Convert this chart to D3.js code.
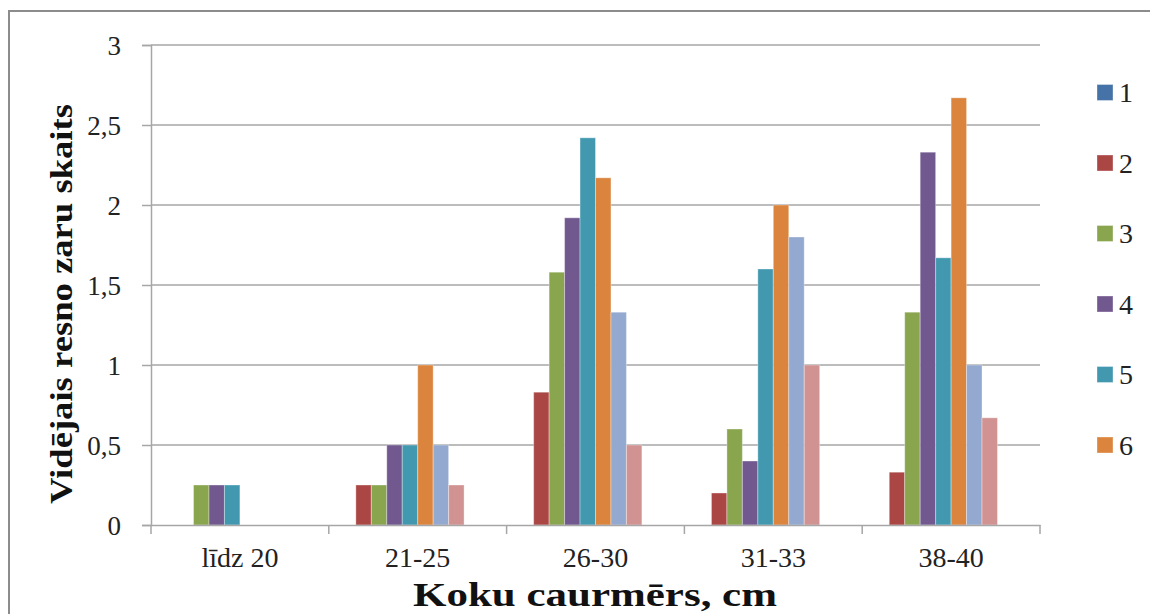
<!DOCTYPE html>
<html>
<head>
<meta charset="utf-8">
<script src="https://cdn.jsdelivr.net/npm/d3@7"></script>
<style>
  html, body { margin: 0; padding: 0; background: #fff; }
  svg { display: block; }
  svg text { font-family: "Liberation Serif", "Times New Roman", Tinos, "DejaVu Serif", serif; }
</style>
</head>
<body>
<svg id="chart" width="1150" height="614"></svg>
<script>
// Diameter classes (x axis)
const categories = ["līdz 20", "21-25", "26-30", "31-33", "38-40"];
// Series names 1..10
const seriesNames = ["1", "2", "3", "4", "5", "6", "7", "8", "9", "10"];
// Average number of thick branches, one array per series
const s1  = [0,    0,    0,    0,    0];
const s2  = [0,    0.25, 0.83, 0.2,  0.33];
const s3  = [0.25, 0.25, 1.58, 0.6,  1.33];
const s4  = [0.25, 0.5,  1.92, 0.4,  2.33];
const s5  = [0.25, 0.5,  2.42, 1.6,  1.67];
const s6  = [0,    1,    2.17, 2,    2.67];
const s7  = [0,    0.5,  1.33, 1.8,  1];
const s8  = [0,    0.25, 0.5,  1,    0.67];
const s9  = [0,    0,    0,    0,    0];
const s10 = [0,    0,    0,    0,    0];
const seriesValues = [s1, s2, s3, s4, s5, s6, s7, s8, s9, s10];
const yTicks = [0, 0.5, 1, 1.5, 2, 2.5, 3];
const colors = ["#4572A7", "#AA4643", "#89A54E", "#71588F", "#4198AF",
                "#DB843D", "#93A9CF", "#D19392", "#B9CD96", "#A99BBD"];
const legendCount = 6;

const svg = d3.select("#chart");
const plotLeft = 151, plotTop = 45, plotW = 889, plotH = 480;
const gridColor = "#a6a6a6";

// Outer chart frame (continues past the right and bottom edges)
svg.append("rect")
  .attr("x", 9).attr("y", 11).attr("width", 1160).attr("height", 640)
  .attr("fill", "none").attr("stroke", "#8c8c8c").attr("stroke-width", 2);

const x0 = d3.scaleBand().domain(categories).range([plotLeft, plotLeft + plotW]).padding(0);
const groupPad = 0.75; // half of the 150% gap, in bar widths
const barW = x0.bandwidth() / (seriesNames.length + 2 * groupPad);
const x1 = d3.scaleBand().domain(seriesNames)
  .range([barW * groupPad, x0.bandwidth() - barW * groupPad]).padding(0);
const y = d3.scaleLinear().domain([0, 3]).range([plotTop + plotH, plotTop]);

// Horizontal gridlines
svg.append("g").selectAll("line").data(yTicks.slice(1)).join("line")
  .attr("x1", plotLeft).attr("x2", plotLeft + plotW)
  .attr("y1", d => y(d)).attr("y2", d => y(d))
  .attr("stroke", gridColor).attr("stroke-width", 1.5);

// Bars
const groups = svg.append("g").selectAll("g").data(seriesNames).join("g")
  .attr("fill", (d, i) => colors[i]);
groups.selectAll("rect")
  .data((name, i) => categories.map((c, j) => ({ c, name, v: seriesValues[i][j] })).filter(d => d.v > 0))
  .join("rect")
  .attr("x", d => x0(d.c) + x1(d.name))
  .attr("width", x1.bandwidth())
  .attr("y", d => y(d.v))
  .attr("height", d => y(0) - y(d.v))
  .attr("stroke", "rgba(255,255,255,0.35)")
  .attr("stroke-width", 1);

// Y axis
const yAxis = d3.axisLeft(y).tickValues(yTicks).tickSize(9).tickPadding(21)
  .tickFormat(d => String(d).replace(".", ","));
const gy = svg.append("g").attr("transform", `translate(${plotLeft},0)`).call(yAxis);
gy.attr("font-family", null);
gy.select(".domain").attr("stroke", gridColor).attr("stroke-width", 1.5);
gy.selectAll(".tick line").attr("stroke", gridColor).attr("stroke-width", 1.5);
gy.selectAll(".tick text").attr("font-size", 27).attr("fill", "#222").attr("dy", "0.34em");

// X axis
const xAxis = d3.axisBottom(x0).tickSize(0).tickPadding(22);
const gx = svg.append("g").attr("transform", `translate(0,${plotTop + plotH})`).call(xAxis);
gx.attr("font-family", null);
gx.select(".domain").attr("stroke", gridColor).attr("stroke-width", 1.5);
gx.selectAll(".tick text").attr("font-size", 28).attr("fill", "#222");
// Category boundary tick marks
svg.append("g").selectAll("line")
  .data(categories.map(c => x0(c)).concat([plotLeft + plotW]))
  .join("line")
  .attr("x1", d => d).attr("x2", d => d)
  .attr("y1", plotTop + plotH).attr("y2", plotTop + plotH + 9)
  .attr("stroke", gridColor).attr("stroke-width", 1.5);

// Axis titles
svg.append("text")
  .attr("x", 595).attr("y", 606)
  .attr("text-anchor", "middle").attr("font-weight", "bold")
  .attr("font-size", 34).attr("fill", "#111")
  .attr("textLength", 364).attr("lengthAdjust", "spacingAndGlyphs")
  .text("Koku caurmērs, cm");

svg.append("text")
  .attr("transform", "translate(72,304) rotate(-90)")
  .attr("text-anchor", "middle").attr("font-weight", "bold")
  .attr("font-size", 31).attr("fill", "#111")
  .attr("textLength", 400).attr("lengthAdjust", "spacingAndGlyphs")
  .text("Vidējais resno zaru skaits");

// Legend (first six series)
const legend = svg.append("g").selectAll("g")
  .data(seriesNames.slice(0, legendCount)).join("g")
  .attr("transform", (d, i) => `translate(1097,${92.5 + i * 70.5})`);
legend.append("rect")
  .attr("x", 0).attr("y", -8).attr("width", 16).attr("height", 16)
  .attr("fill", (d, i) => colors[i])
  .attr("stroke", "rgba(255,255,255,0.35)");
legend.append("text")
  .attr("x", 22).attr("y", 0).attr("dy", "0.34em")
  .attr("font-size", 28).attr("fill", "#222")
  .text(d => d);
</script>
</body>
</html>
